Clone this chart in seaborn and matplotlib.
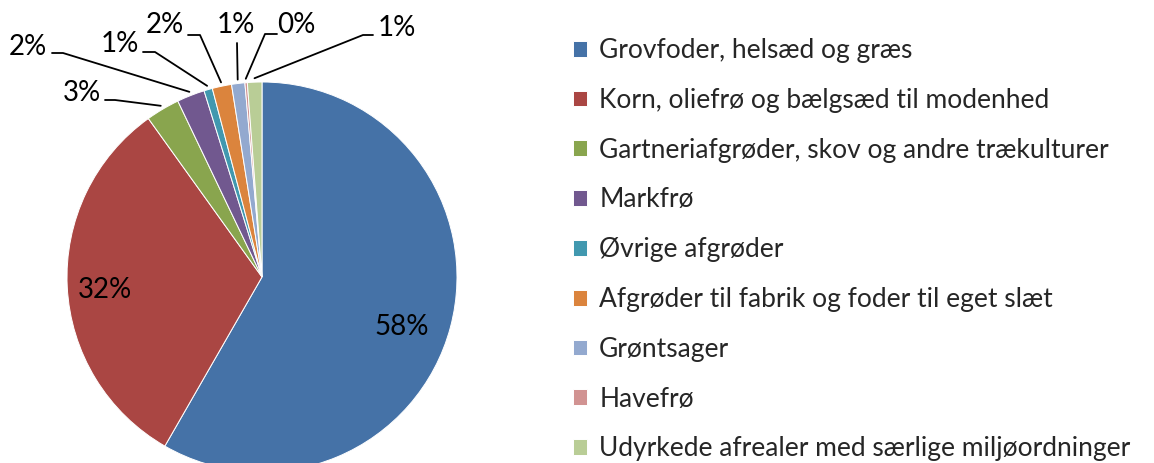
import matplotlib
matplotlib.use("Agg")
import matplotlib.pyplot as plt
import seaborn as sns
import numpy as np

categories = [
    "Grovfoder, helsæd og græs",
    "Korn, oliefrø og bælgsæd til modenhed",
    "Gartneriafgrøder, skov og andre trækulturer",
    "Markfrø",
    "Øvrige afgrøder",
    "Afgrøder til fabrik og foder til eget slæt",
    "Grøntsager",
    "Havefrø",
    "Udyrkede afrealer med særlige miljøordninger",
]
shares = [58.3, 31.8, 2.8, 2.3, 0.7, 1.6, 1.1, 0.2, 1.2]
colors = ["#4572A7", "#AA4643", "#89A54E", "#71588F", "#4198AF",
          "#DB843D", "#93A9CF", "#D19392", "#B9CD96"]

# layout (pixels in the 1154x463 picture)
W, H = 1154, 463
cx, cy, R = 262, 277, 195
inner_text_px = {0: (402, 327), 1: (105, 290)}
outer_text_px = {2: (82, 93), 3: (28, 47), 4: (120, 44), 5: (165, 25),
                 6: (236, 25), 7: (296, 25), 8: (397, 28)}
outer_tail_px = {2: [(105, 100), (115, 100)], 3: [(52, 53), (63, 53)],
                 4: [(143, 52), (155, 52)], 5: [(188, 35), (200, 35)],
                 6: [(237, 43)], 7: [(277, 34), (265, 34)],
                 8: [(373, 35), (363, 35)]}


def to_data(p):
    return (p[0] - cx) / R, (cy - p[1]) / R


sns.set_theme(style="white")
plt.rcParams['font.family'] = ['Lato', 'DejaVu Sans']
FS = 20

fig = plt.figure(figsize=(W / 100, H / 100), dpi=100)
ax = fig.add_axes([(cx - R) / W, (H - cy - R) / H, 2 * R / W, 2 * R / H])
wedges, _ = ax.pie(shares, colors=sns.color_palette(colors), startangle=90,
                   counterclock=False, radius=1,
                   wedgeprops=dict(edgecolor="white", linewidth=0.7))
ax.set_xlim(-1, 1)
ax.set_ylim(-1, 1)
ax.set_axis_off()

total = sum(shares)
pct = [f"{v / total * 100:.0f}%" for v in shares]

for i, p in inner_text_px.items():
    x, y = to_data(p)
    ax.text(x, y, pct[i], ha="center", va="center", fontsize=FS, color="black")

for i, p in outer_text_px.items():
    w = wedges[i]
    mid = np.deg2rad((w.theta1 + w.theta2) / 2)
    start = (1.02 * np.cos(mid), 1.02 * np.sin(mid))
    pts = [start] + [to_data(q) for q in outer_tail_px[i][::-1]]
    xs, ys = zip(*pts)
    ax.plot(xs, ys, color="black", lw=1.3, clip_on=False)
    x, y = to_data(p)
    ax.text(x, y, pct[i], ha="center", va="center", fontsize=FS,
            color="black", clip_on=False)

fig.legend(wedges, categories, loc="upper left",
           bbox_to_anchor=(573 / W, 1 - 38 / H), frameon=False,
           fontsize=19, handlelength=0.54, handleheight=0.54,
           handletextpad=0.45, labelspacing=0.94, borderpad=0,
           borderaxespad=0)

fig.savefig("out.png", dpi=100)
